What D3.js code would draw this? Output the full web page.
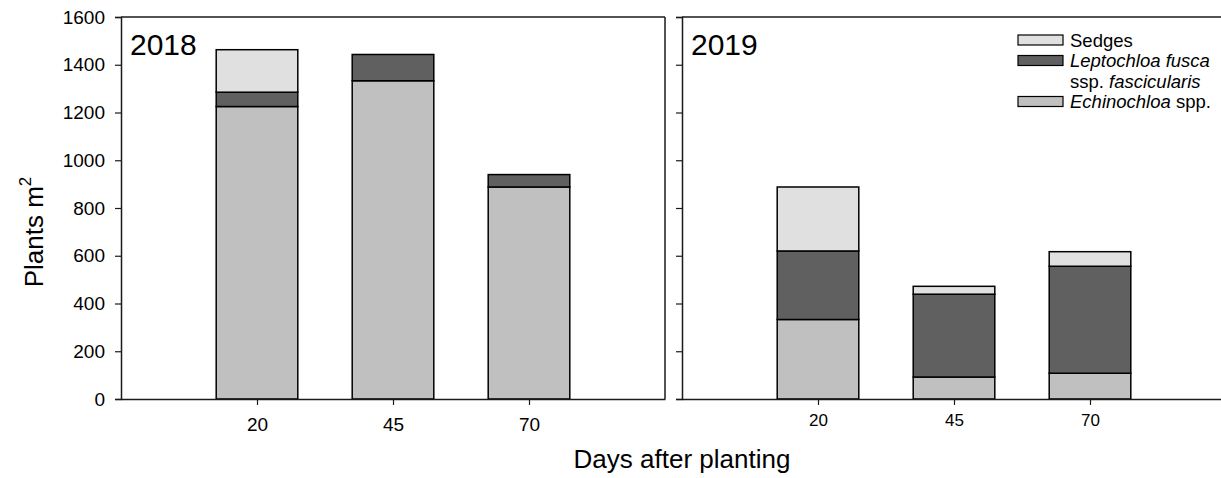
<!DOCTYPE html>
<html>
<head>
<meta charset="utf-8">
<script src="https://cdn.jsdelivr.net/npm/d3@7"></script>
<style>
  html, body { margin: 0; padding: 0; background: #fff; }
  svg { display: block; font-family: "Liberation Sans", Arial, sans-serif; }
</style>
</head>
<body>
<svg id="chart" width="1221" height="478"></svg>
<script>
// Weed density (plants per m²) by days after planting, stacked by species group
const days = [20, 45, 70];
const years = ["2018", "2019"];
const speciesKeys = ["echino", "lepto", "sedges"];
const echino2018 = [1225, 1333, 888];
const lepto2018 = [60, 110, 52];
const sedges2018 = [178, 0, 0];
const echino2019 = [333, 92, 108];
const lepto2019 = [287, 347, 448];
const sedges2019 = [268, 33, 61];
const yTicks = [0, 200, 400, 600, 800, 1000, 1200, 1400, 1600];

const fills = { echino: "#c0c0c0", lepto: "#606060", sedges: "#e0e0e0" };

function rows(e, l, s) {
  return days.map((d, i) => ({ day: d, echino: e[i], lepto: l[i], sedges: s[i] }));
}
const panels = [
  { year: years[0], data: rows(echino2018, lepto2018, sedges2018), x0: 121 },
  { year: years[1], data: rows(echino2019, lepto2019, sedges2019), x0: 682 }
];

const svg = d3.select("#chart");
const panelW = 544;
const yTop = 17, yBottom = 399;

const y = d3.scaleLinear().domain([0, 1600]).range([yBottom, yTop]);
const stack = d3.stack().keys(speciesKeys);

panels.forEach((p, pi) => {
  const x = d3.scalePoint().domain(days).range([p.x0, p.x0 + panelW]).padding(1);
  const barW = x.step() * 0.6;
  const g = svg.append("g");

  // stacked bars
  const layers = stack(p.data);
  layers.forEach(layer => {
    g.append("g").selectAll("rect").data(layer).join("rect")
      .attr("x", d => x(d.data.day) - barW / 2)
      .attr("width", barW)
      .attr("y", d => y(d[1]))
      .attr("height", d => y(d[0]) - y(d[1]))
      .attr("fill", fills[layer.key])
      .attr("stroke", "#000")
      .attr("stroke-width", 1.5)
      .attr("display", d => d[1] - d[0] > 0 ? null : "none");
  });

  // frame: top line (left panel also has a right border)
  const frame = g.append("g").attr("stroke", "#1a1a1a").attr("stroke-width", 1.5).attr("fill", "none");
  frame.append("line").attr("x1", p.x0).attr("x2", p.x0 + panelW).attr("y1", yTop).attr("y2", yTop);
  if (pi === 0) {
    frame.append("line").attr("x1", p.x0 + panelW).attr("x2", p.x0 + panelW).attr("y1", yTop).attr("y2", yBottom);
  }

  // y axis
  const yAxis = d3.axisLeft(y).tickValues(yTicks).tickSize(6).tickPadding(10)
    .tickFormat(pi === 0 ? d3.format("d") : () => "");
  const ya = g.append("g").attr("transform", `translate(${p.x0},0)`).call(yAxis);
  ya.select(".domain").attr("stroke", "#1a1a1a").attr("stroke-width", 1.5);
  ya.selectAll(".tick line").attr("stroke", "#1a1a1a").attr("stroke-width", 1.2);
  ya.selectAll(".tick text").attr("font-size", 19).attr("fill", "#000")
    .attr("font-family", "'Liberation Sans', Arial, sans-serif");

  // x axis
  const xAxis = d3.axisBottom(x).tickSize(6).tickPadding(pi === 0 ? 13 : 9).tickSizeOuter(0);
  const xa = g.append("g").attr("transform", `translate(0,${yBottom})`).call(xAxis);
  xa.select(".domain").attr("stroke", "#1a1a1a").attr("stroke-width", 1.5);
  xa.selectAll(".tick line").attr("stroke", "#1a1a1a").attr("stroke-width", 1.2);
  xa.selectAll(".tick text").attr("font-size", pi === 0 ? 19 : 17).attr("fill", "#000")
    .attr("font-family", "'Liberation Sans', Arial, sans-serif");

  // year label
  g.append("text").attr("x", p.x0 + 9).attr("y", 55)
    .attr("font-size", 30).attr("fill", "#000").text(p.year);
});

// y axis title
const yTitle = svg.append("text")
  .attr("transform", "translate(43,232) rotate(-90)")
  .attr("text-anchor", "middle").attr("font-size", 26).attr("fill", "#000");
yTitle.append("tspan").text("Plants m");
yTitle.append("tspan").attr("dy", -12).attr("font-size", 17).text("2");

// x axis title
svg.append("text").attr("x", 682).attr("y", 468)
  .attr("text-anchor", "middle").attr("font-size", 26).attr("fill", "#000")
  .text("Days after planting");

// legend
const legendItems = [
  { key: "sedges", lines: [[["Sedges", false]]] },
  { key: "lepto", lines: [[["Leptochloa fusca", true]], [["ssp. ", false], ["fascicularis", true]]] },
  { key: "echino", lines: [[["Echinochloa", true], [" spp.", false]]] }
];
const lg = svg.append("g");
let ly = 40;
legendItems.forEach(item => {
  lg.append("rect").attr("x", 1018).attr("y", ly - 5).attr("width", 45).attr("height", 10)
    .attr("fill", fills[item.key]).attr("stroke", "#000").attr("stroke-width", 1.2);
  item.lines.forEach((ln, li) => {
    const t = lg.append("text").attr("x", 1070).attr("y", ly + 6.5 + li * 20.5)
      .attr("font-size", 18.5).attr("fill", "#000");
    ln.forEach(([s, it]) => t.append("tspan").attr("font-style", it ? "italic" : "normal").text(s));
  });
  ly += item.lines.length * 20.5;
});
</script>
</body>
</html>
